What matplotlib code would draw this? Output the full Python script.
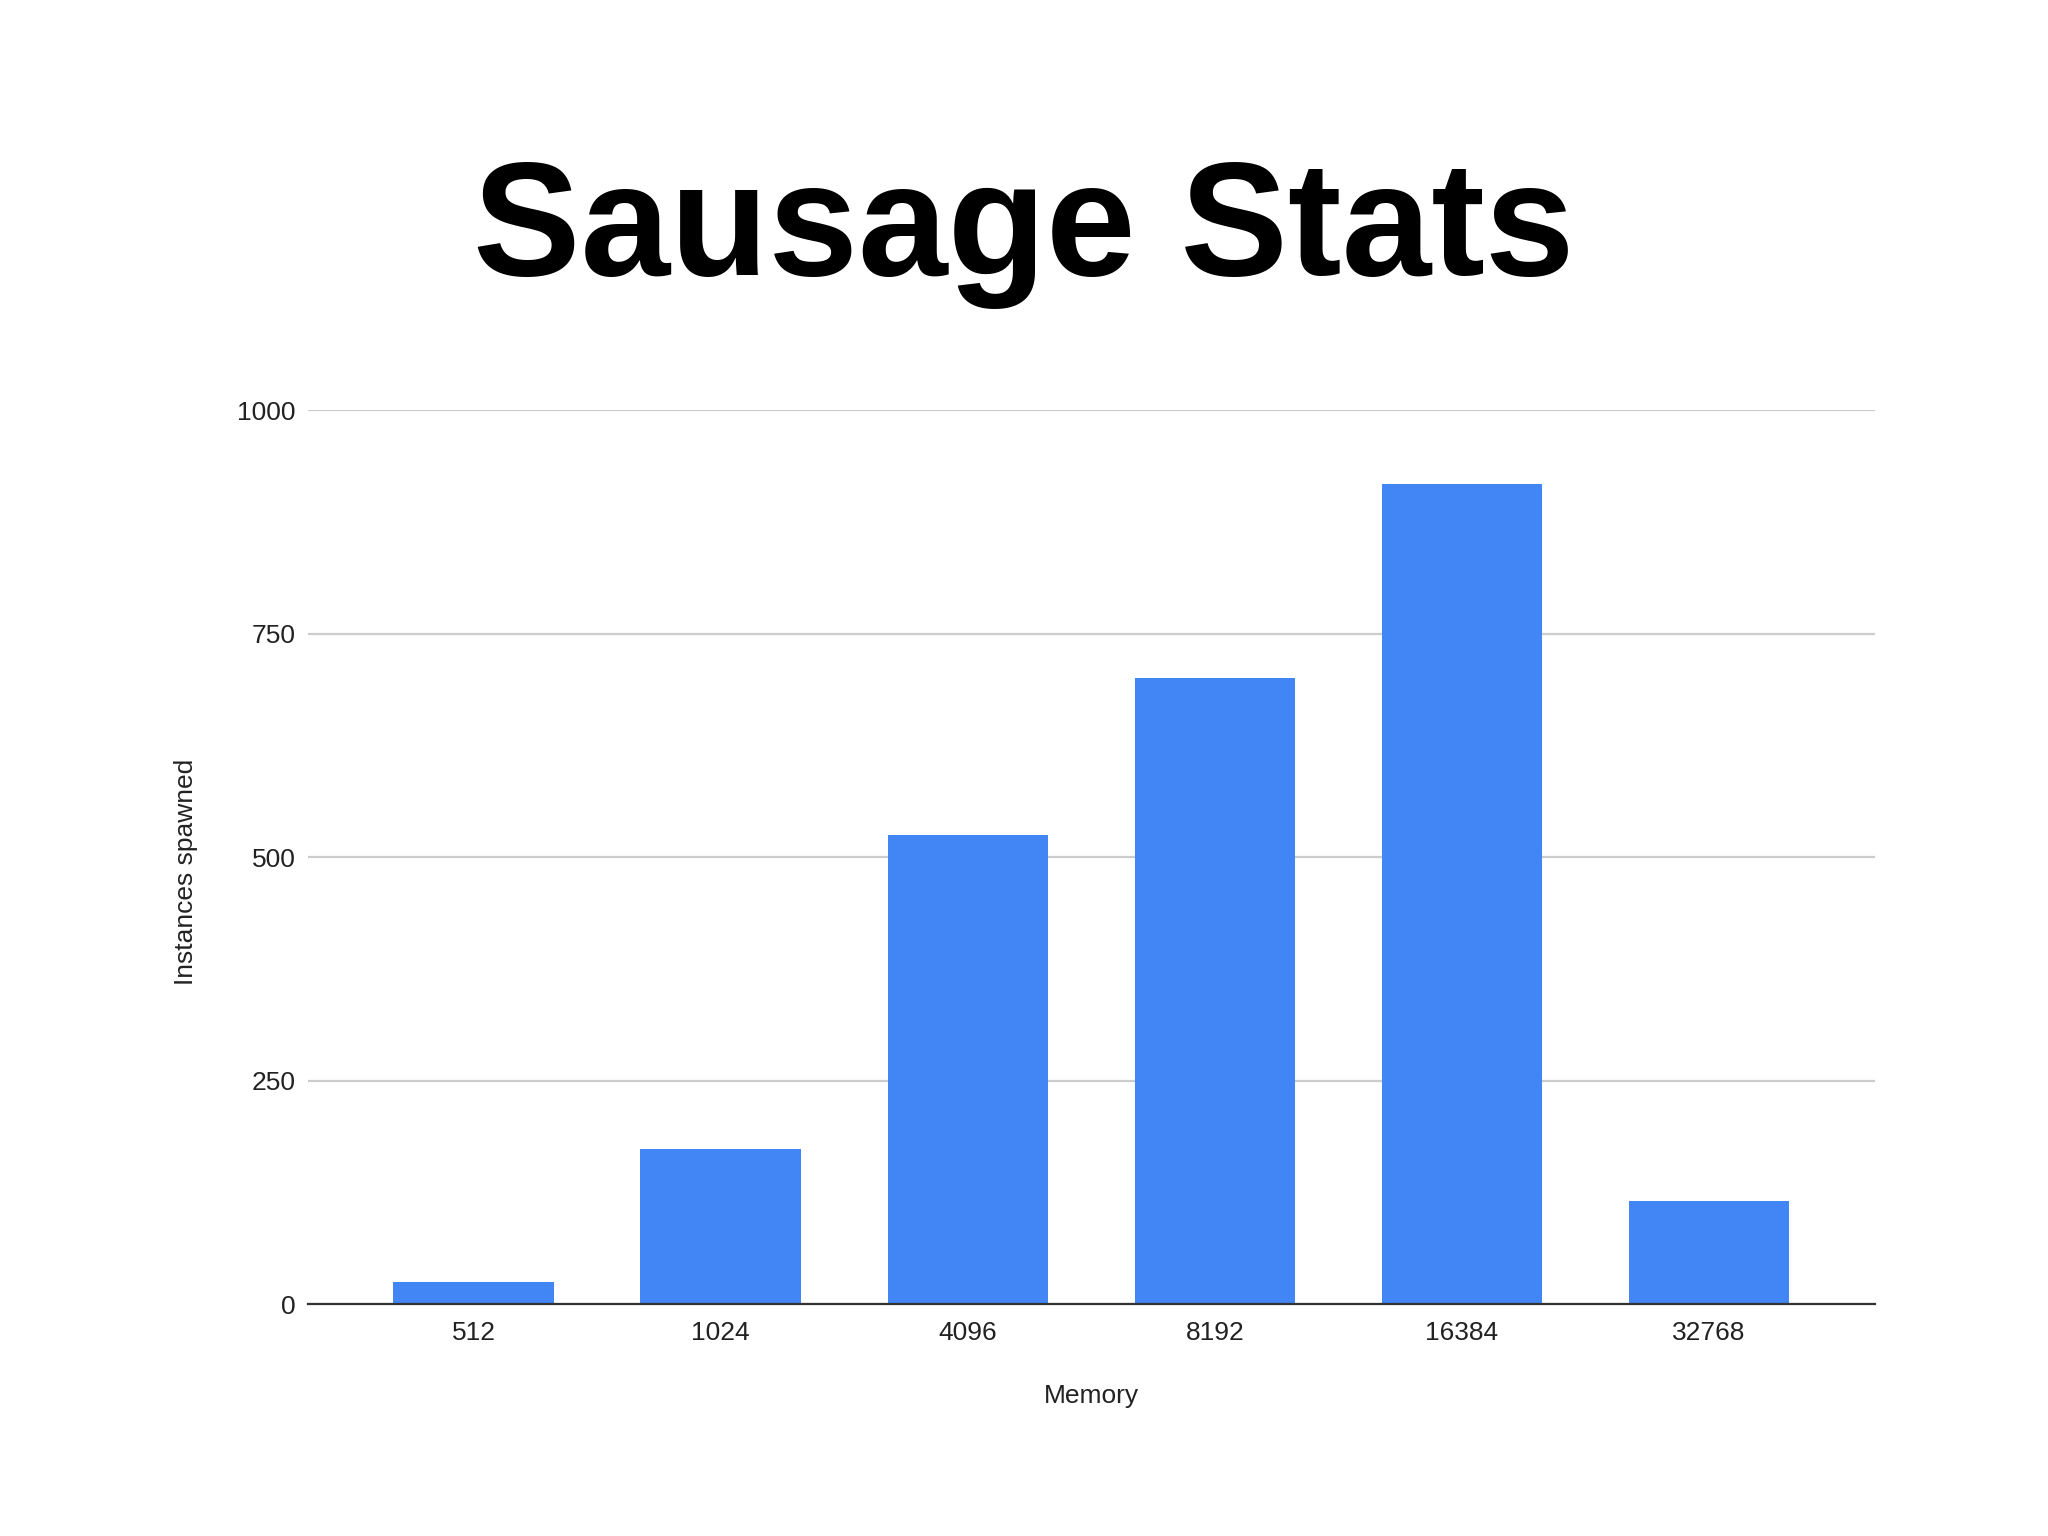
import matplotlib.pyplot as plt

plt.rcParams['font.family'] = ['Liberation Sans', 'DejaVu Sans']

# data
memory = ['512', '1024', '4096', '8192', '16384', '32768']
instances = [25, 174, 525, 700, 917, 115]
yticks = [0, 250, 500, 750, 1000]

fig = plt.figure(figsize=(20.48, 15.36), dpi=100)
ax = fig.add_axes([0.1504, 0.151, 0.765, 0.582])

x = range(len(memory))
ax.bar(x, instances, width=0.65, color='#4285F4', zorder=3)

ax.set_xlim(-0.67, 5.67)
ax.set_ylim(0, 1000)
ax.set_xticks(list(x))
ax.set_xticklabels(memory)
ax.set_yticks(yticks)
ax.yaxis.grid(True, color='#cccccc', linewidth=1.6, zorder=0)
ax.tick_params(axis='both', length=0, labelsize=19, colors='#222222')
ax.tick_params(axis='x', pad=12)
ax.tick_params(axis='y', pad=9)
for s in ['top', 'right', 'left']:
    ax.spines[s].set_visible(False)
ax.spines['bottom'].set_color('#333333')
ax.spines['bottom'].set_linewidth(1.6)
ax.spines['bottom'].set_zorder(4)

ax.set_xlabel('Memory', fontsize=19, color='#222222', labelpad=28)
ax.set_ylabel('Instances spawned', fontsize=19, color='#222222')
ax.yaxis.set_label_coords(-0.070, 0.484)

fig.text(0.5, 0.848, 'Sausage Stats', ha='center', va='center',
         fontsize=116, fontweight='bold', color='black')

plt.savefig('out.png', dpi=100, facecolor='white')
